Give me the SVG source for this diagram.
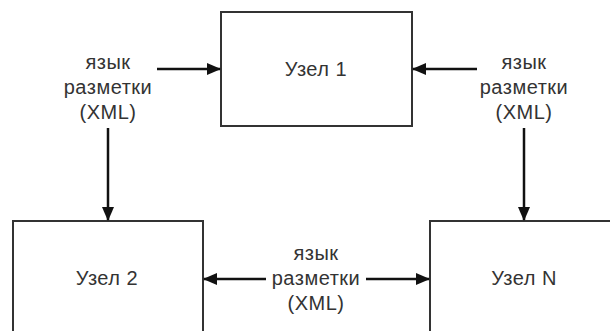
<svg xmlns="http://www.w3.org/2000/svg" width="610" height="331" viewBox="0 0 610 331">
<style>
.box{fill:#fff;stroke:#333;stroke-width:2}
.lbl{font-family:"Liberation Sans",Arial,sans-serif;font-size:20px;letter-spacing:0.5px;fill:#333;text-anchor:middle}
.con{stroke:#111;stroke-width:2.5;fill:none}
</style>
<defs>
<marker id="ah" markerUnits="userSpaceOnUse" markerWidth="14" markerHeight="12" refX="13" refY="6" orient="auto-start-reverse" viewBox="0 0 14 12">
<path d="M0,0 L14,6 L0,12 Z" fill="#111"/>
</marker>
</defs>
<rect width="610" height="331" fill="#fff"/>
<g id="node1">
<rect class="box" x="221" y="12" width="191" height="114"/>
<text class="lbl" x="316" y="76">Узел 1</text>
</g>
<g id="node2">
<rect class="box" x="13" y="221" width="190" height="130"/>
<text class="lbl" x="107" y="285">Узел 2</text>
</g>
<g id="nodeN">
<rect class="box" x="430" y="221" width="200" height="130"/>
<text class="lbl" x="524" y="285">Узел N</text>
</g>
<g id="labels">
<text class="lbl" x="108"><tspan x="108" y="69">язык</tspan><tspan x="108" y="94">разметки</tspan><tspan x="108" y="119">(XML)</tspan></text>
<text class="lbl" x="524"><tspan x="524" y="69">язык</tspan><tspan x="524" y="94">разметки</tspan><tspan x="524" y="119">(XML)</tspan></text>
<text class="lbl" x="316"><tspan x="316" y="260">язык</tspan><tspan x="316" y="285">разметки</tspan><tspan x="316" y="310">(XML)</tspan></text>
</g>
<g id="connectors">
<line class="con" x1="157" y1="69" x2="220" y2="69" marker-end="url(#ah)"/>
<line class="con" x1="477" y1="69" x2="413" y2="69" marker-end="url(#ah)"/>
<line class="con" x1="108" y1="128" x2="108" y2="220" marker-end="url(#ah)"/>
<line class="con" x1="524" y1="128" x2="524" y2="220" marker-end="url(#ah)"/>
<line class="con" x1="204" y1="279" x2="266" y2="279" marker-start="url(#ah)"/>
<line class="con" x1="366" y1="279" x2="429" y2="279" marker-end="url(#ah)"/>
</g>
</svg>
